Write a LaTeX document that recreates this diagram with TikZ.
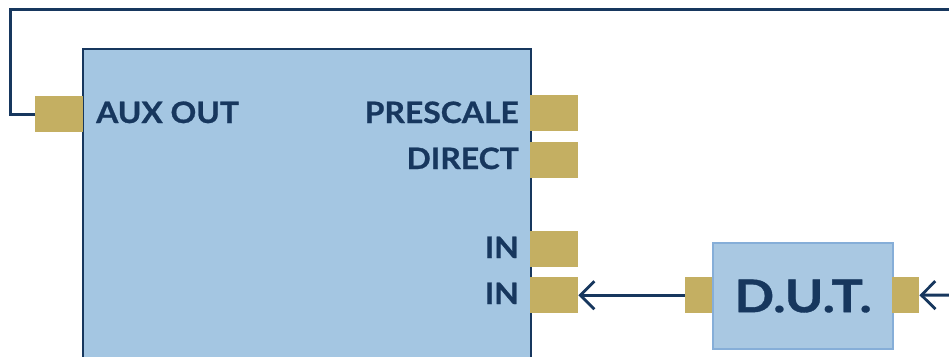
\documentclass[tikz,border=0pt]{standalone}
\usepackage{fontspec}
\setmainfont{Lato}
\newfontfamily\lblfont{Lato}[FakeStretch=1.08, FakeBold=0.8]
\newfontfamily\dutfont{Lato}[FakeStretch=1.16, FakeBold=0.8]
\usetikzlibrary{arrows.meta}
\definecolor{navy}{HTML}{17375E}
\definecolor{boxblue}{HTML}{A4C6E2}
\definecolor{dutblue}{HTML}{A9C8E2}
\definecolor{dutedge}{HTML}{86AED8}
\definecolor{gold}{HTML}{C4AF62}
\tikzset{
  wire/.style={draw=navy, line width=3pt},
  chev/.style={-{Straight Barb[length=14pt,width=28pt,line width=2.8pt]}},
  port/.style={fill=gold, draw=none, inner sep=0pt, minimum width=48pt, minimum height=36pt},
  smallport/.style={fill=gold, draw=none, inner sep=0pt, minimum width=27pt, minimum height=36pt},
  mainbox/.style={fill=boxblue, draw=navy, line width=2.4pt, inner sep=0pt},
  dutbox/.style={fill=dutblue, draw=dutedge, line width=2.2pt, inner sep=0pt},
  lbl/.style={text=navy, font=\fontsize{29.5}{30}\lblfont\bfseries, inner sep=0pt},
}
\begin{document}
\begin{tikzpicture}[x=1pt, y=-1pt]
\useasboundingbox (0,0) rectangle (949,356);
\clip (0,0) rectangle (949,356);

% instrument box, running past the lower edge
\node[mainbox, anchor=north west, minimum width=448pt, minimum height=330pt] (main) at (82,48) {};

% ports of the instrument
\node[port, anchor=north west] (aux) at (35,96) {};
\node[port, anchor=north west] (pre) at (530,95) {};
\node[port, anchor=north west] (dir) at (530,142) {};
\node[port, anchor=north west] (ina) at (530,231) {};
\node[port, anchor=north west] (inb) at (530,277) {};

% port labels
\node[lbl, anchor=base west] (tAux) at (96,123) {AUX OUT};
\node[lbl, anchor=base east] (tPre) at (519,123) {PRESCALE};
\node[lbl, anchor=base east] (tDir) at (519,169) {DIRECT};
\node[lbl, anchor=base east] (tIna) at (519,258) {IN};
\node[lbl, anchor=base east] (tInb) at (519,304) {IN};

% device under test
\node[dutbox, anchor=north west, minimum width=180pt, minimum height=106pt,
      text=navy, font=\fontsize{45}{46}\dutfont\bfseries] (dut) at (712,242) {D.U.T.};
\node[smallport, anchor=north east] (dutin) at (712,277) {};
\node[smallport, anchor=north west] (dutout) at (892,277) {};

% wiring
\coordinate (corner) at (10,9);
\coordinate (topend) at (949,9);
\coordinate (feed) at (949,295);
\draw[wire] (aux.west) -| (corner) -- (topend);
\draw[wire, chev] (dutin.west) -- (inb.east);
\draw[wire, chev] (feed) -- (dutout.east);
\end{tikzpicture}
\end{document}
